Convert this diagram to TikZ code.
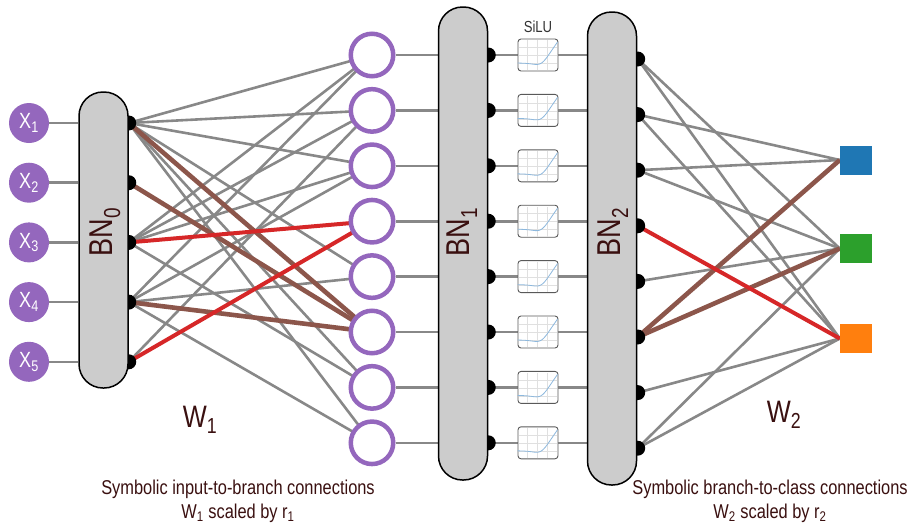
\documentclass[tikz,border=0pt]{standalone}
\usepackage{fontspec}
\setmainfont{Liberation Sans}[FakeStretch=0.82]
\usetikzlibrary{positioning,calc}
\definecolor{txt}{HTML}{3A1010}
\definecolor{bngray}{HTML}{CCCCCC}
\definecolor{lgray}{HTML}{888888}
\definecolor{pbrown}{HTML}{8C564B}
\definecolor{pred}{HTML}{D62728}
\definecolor{ppurple}{HTML}{9467BD}
\definecolor{pblue}{HTML}{1F77B4}
\definecolor{pgreen}{HTML}{2CA02C}
\definecolor{porange}{HTML}{FF7F0E}
\definecolor{curve}{HTML}{8DB8DD}
\pgfdeclarelayer{edges}
\pgfdeclarelayer{dots}
\pgfsetlayers{edges,dots,main}
\tikzstyle{feat}=[circle,fill=ppurple,text=white,minimum size=40pt,inner sep=0pt,font=\fontsize{22}{26}\selectfont]
\tikzstyle{bn}=[draw=black,line width=1.5pt,fill=bngray,rounded corners=24pt,minimum width=49pt,inner sep=0pt]
\tikzstyle{bnlabel}=[text=txt,rotate=90,inner sep=0pt,font=\fontsize{33}{36}\selectfont]
\tikzstyle{branch}=[circle,draw=ppurple,line width=4.5pt,fill=white,minimum size=42.5pt,inner sep=0pt]
\tikzstyle{port}=[circle,fill=black,minimum size=15pt,inner sep=0pt]
\tikzstyle{act}=[draw=black!65,line width=0.9pt,fill=white,rounded corners=3pt,minimum width=40pt,minimum height=32pt,inner sep=0pt]
\tikzstyle{cls}=[minimum width=32pt,minimum height=29pt,inner sep=0pt]
\tikzstyle{wire}=[draw=lgray,line width=2.6pt]
\tikzstyle{strong}=[draw=pbrown,line width=4.6pt]
\tikzstyle{hot}=[draw=pred,line width=4pt]
\tikzstyle{caption}=[text=txt,align=center,font=\fontsize{20}{24}\selectfont]

\begin{document}
\begin{tikzpicture}[x=1pt,y=-1pt]
  \useasboundingbox (0,0) rectangle (909,525);

  % batch norm columns
  \node[bn,minimum height=296pt] (bn0) at (103.5,240) {};
  \node[bn,minimum height=473pt] (bn1) at (463,243.5) {};
  \node[bn,minimum height=473pt] (bn2) at (612,248.5) {};
  \node[bnlabel] (l0) at (105,232) {BN\textsubscript{0}};
  \node[bnlabel] (l1) at (462,232) {BN\textsubscript{1}};
  \node[bnlabel] (l2) at (613,232) {BN\textsubscript{2}};

  % inputs
  \foreach \i in {1,...,5} {
    \node[feat] (x\i) at (29,{123+59.7*(\i-1)}) {X\textsubscript{\i}};
    \begin{pgfonlayer}{dots}
      \node[port] (p\i) at (bn0.east |- x\i) {};
    \end{pgfonlayer}
  }

  % branches, BN1 outputs, SiLU
  \foreach \i in {1,...,8} {
    \node[branch] (c\i) at (372,{55+55.4*(\i-1)}) {};
    \node[act] (s\i) at (538,{55+55.4*(\i-1)}) {};
    \begin{pgfonlayer}{dots}
      \node[port] (q\i) at (bn1.east |- c\i) {};
      \node[port] (r\i) at (637.7,{59+55.6*(\i-1)}) {};
    \end{pgfonlayer}
    \begin{scope}[shift={(s\i.south west)},x=1pt,y=1pt]
      \draw[black!12,line width=0.6pt] (10,1)--(10,31) (20,1)--(20,31) (30,1)--(30,31)
        (1,8)--(39,8) (1,16)--(39,16) (1,24)--(39,24);
      \draw[curve,line width=0.8pt] plot[domain=-6:4,samples=40,smooth]
        ({(\x+6)*4},{7+(\x/(1+exp(-\x))+0.278)*5.34});
    \end{scope}
  }
  \node[text=black!80,font=\fontsize{16}{18}\selectfont] (silu) at (538,27) {SiLU};

  % classes
  \node[cls,fill=pblue] (o1) at (856,160) {};
  \node[cls,fill=pgreen] (o2) at (856,248.5) {};
  \node[cls,fill=porange] (o3) at (856,338.5) {};

  \begin{pgfonlayer}{edges}
    \foreach \i in {1,...,5}
      \draw[wire] (x\i) -- (x\i -| bn0.west);
    \foreach \a/\b in {1/1,1/2,1/3,1/5,1/7,1/8,3/1,3/2,3/3,3/7,4/1,4/3,4/5,4/8,5/2}
      \draw[wire] (p\a.center) -- (c\b.center);
    \foreach \a in {1,2,4}
      \draw[strong] (p\a.center) -- (c6.center);
    \foreach \a in {3,5}
      \draw[hot] (p\a.center) -- (c4.center);
    \foreach \i in {1,...,8}
      \draw[wire] (c\i) -- (c\i -| bn1.west) (q\i.center) -- (s\i) (s\i) -- (s\i -| bn2.west);
    \foreach \a/\b in {1/2,1/3,2/1,2/3,3/1,3/2,5/2,7/3,8/2,8/3}
      \draw[wire] (r\a.center) -- (o\b.west);
    \foreach \b in {1,2}
      \draw[strong] (r6.center) -- (o\b.west);
    \draw[hot] (r4.center) -- (o3.west);
  \end{pgfonlayer}

  % weight labels
  \node[text=txt,font=\fontsize{31}{36}\selectfont] (w1) at (200,420) {W\textsubscript{1}};
  \node[text=txt,font=\fontsize{31}{36}\selectfont] (w2) at (784,415) {W\textsubscript{2}};
  \node[caption] (t1) at (238,501) {Symbolic input-to-branch connections\\W\textsubscript{1} scaled by r\textsubscript{1}};
  \node[caption] (t2) at (770,501) {Symbolic branch-to-class connections\\W\textsubscript{2} scaled by r\textsubscript{2}};
\end{tikzpicture}
\end{document}
